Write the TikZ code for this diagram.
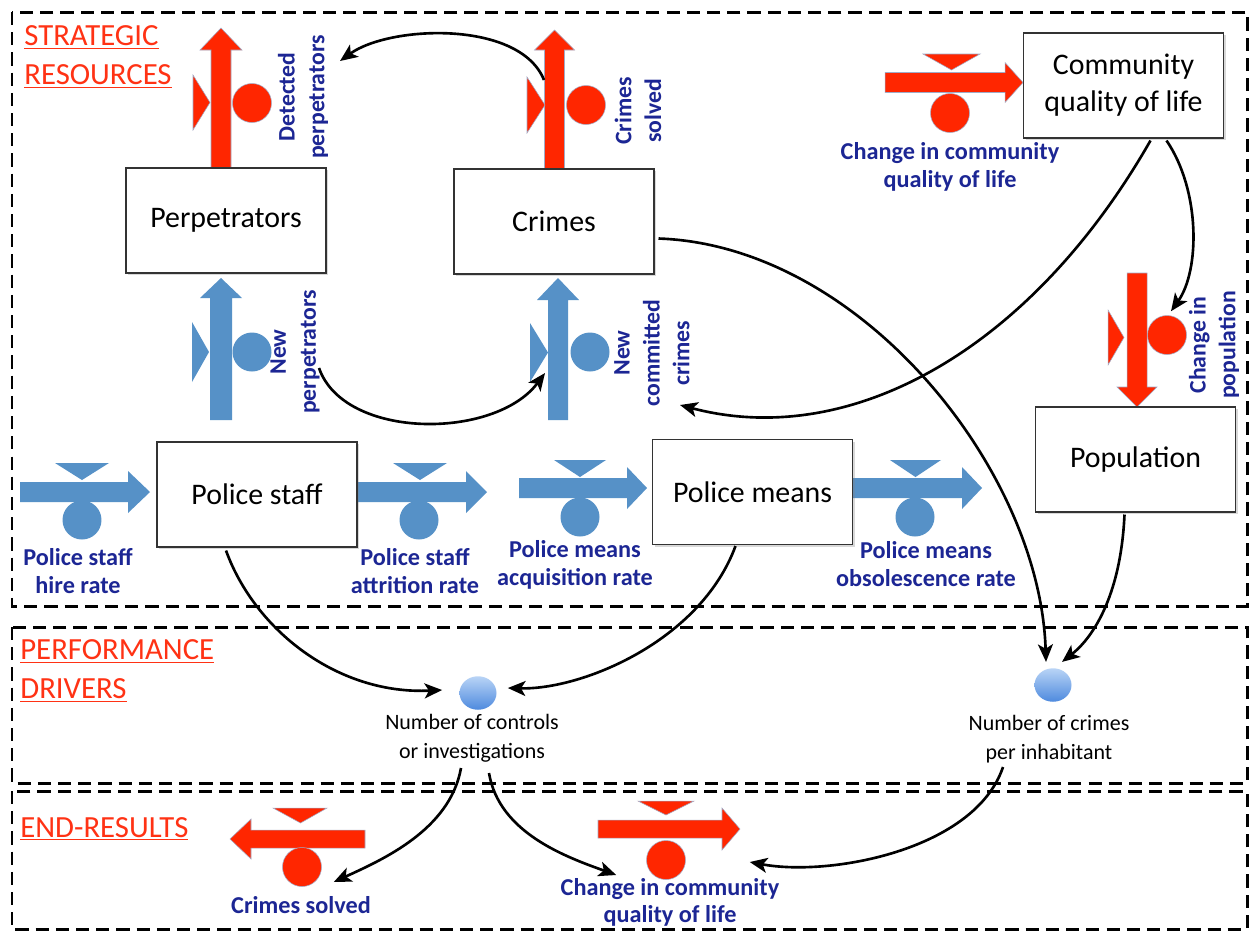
\documentclass[tikz,border=0pt]{standalone}
\usepackage{fontspec}
\setmainfont{Carlito}
\usetikzlibrary{arrows.meta,calc,shadows,shapes.geometric}

\definecolor{flowred}{RGB}{255,38,0}
\definecolor{flowblue}{RGB}{86,145,199}
\definecolor{labblue}{RGB}{28,38,148}
\definecolor{secred}{RGB}{255,50,20}
\definecolor{edgegray}{RGB}{120,135,175}
\definecolor{auxtop}{RGB}{185,212,246}
\definecolor{auxbottom}{RGB}{78,138,222}

% horizontal flow pipe: style, x start, x tip, y centre, shaft half width, head half width, signed head length
\newcommand{\FlowH}[7]{\path[#1] (#2,{#4-#5}) -- ({#3-(#7)},{#4-#5}) -- ({#3-(#7)},{#4-#6}) -- (#3,#4)
  -- ({#3-(#7)},{#4+#6}) -- ({#3-(#7)},{#4+#5}) -- (#2,{#4+#5}) -- cycle;}
% vertical flow pipe: style, x centre, y start, y tip, shaft half width, head half width, signed head length
\newcommand{\FlowV}[7]{\path[#1] ({#2-#5},#3) -- ({#2-#5},{#4+(#7)}) -- ({#2-#6},{#4+(#7)}) -- (#2,#4)
  -- ({#2+#6},{#4+(#7)}) -- ({#2+#5},{#4+(#7)}) -- ({#2+#5},#3) -- cycle;}

\tikzset{
  secbox/.style={draw=black, line width=1.7pt, dash pattern=on 7.5pt off 4pt},
  seclab/.style={text=secred, font=\fontsize{17.5}{22.5}\selectfont, align=left, inner sep=0pt},
  stock/.style={draw=black!80, line width=0.6pt, fill=white, minimum width=4cm, minimum height=2.1cm,
    inner sep=0pt, align=center, font=\fontsize{17}{21}\selectfont,
    drop shadow={shadow xshift=1.2pt, shadow yshift=-1.2pt, opacity=0.3}},
  rflow/.style={fill=flowred, draw=edgegray!70, line width=0.3pt},
  bflow/.style={fill=flowblue},
  rvalve/.style={circle, fill=flowred, draw=edgegray!70, line width=0.3pt, minimum size=0.78cm, inner sep=0pt},
  bvalve/.style={circle, fill=flowblue, minimum size=0.78cm, inner sep=0pt},
  flowlab/.style={text=labblue, font=\fontsize{13.8}{15.5}\selectfont\bfseries, align=center, inner sep=0pt},
  vflowlab/.style={flowlab, rotate=90, font=\fontsize{13.5}{17}\selectfont\bfseries},
  aux/.style={ellipse, minimum width=0.74cm, minimum height=0.67cm, inner sep=0pt,
    top color=auxtop, bottom color=auxbottom},
  auxlab/.style={font=\fontsize{12.5}{16.5}\selectfont, align=center, inner sep=0pt},
  conn/.style={draw=black, line width=1.5pt, -{Stealth[length=10pt,width=8.5pt,inset=2.5pt]}}
}

\begin{document}
\begin{tikzpicture}[x=0.02cm, y=-0.02cm]
\path[use as bounding box, fill=white] (0,0) rectangle (1250,931);

% section frames
\draw[secbox] (12,12) rectangle (1247,606);
\draw[secbox] (12,627) rectangle (1247,783);
\draw[secbox] (12,791) rectangle (1247,929);

\node[seclab, anchor=west] (secsr) at (24,57) {\underline{STRATEGIC}\\\underline{RESOURCES}};
\node[seclab, anchor=west] (secpd) at (20,671) {\underline{PERFORMANCE}\\\underline{DRIVERS}};
\node[seclab, anchor=west] (seces) at (20,829) {\underline{END-RESULTS}};

% red outflows of the stocks
\FlowV{rflow}{221}{168}{28}{10}{21}{22}
\path[rflow] (193,75) -- (210,102.5) -- (193,130) -- cycle;
\node[rvalve] (dp) at (252,103) {};
\node[vflowlab] (detlab) at (303,97) {Detected\\perpetrators};

\FlowV{rflow}{554.5}{169}{30}{10}{20}{20}
\path[rflow] (527,77) -- (545,105) -- (527,133) -- cycle;
\node[rvalve] (cs) at (586,105) {};
\node[vflowlab] (cslab) at (638,111) {Crimes\\solved};

\FlowH{rflow}{885}{1023}{82.5}{10}{20}{18}
\path[rflow] (923,54) -- (980,54) -- (951.5,70) -- cycle;
\node[rvalve] (cq) at (950,113) {};
\node[flowlab] (cqlab) at (950,167) {Change in community\\quality of life};

\FlowV{rflow}{1137}{273}{407}{10}{20}{-20}
\path[rflow] (1108,310) -- (1124,337.5) -- (1108,365) -- cycle;
\node[rvalve] (cp) at (1167,335) {};
\node[vflowlab] (cplab) at (1214,345) {Change in\\population};

% blue inflows
\FlowV{bflow}{221}{420}{278}{11}{21}{20}
\path[bflow] (192,322) -- (209,352) -- (192,382) -- cycle;
\node[bvalve] (np) at (252,352) {};
\node[vflowlab] (nplab) at (295,352) {New\\perpetrators};

\FlowV{bflow}{558}{420}{278}{10}{21}{22}
\path[bflow] (530,323) -- (548,352.5) -- (530,382) -- cycle;
\node[bvalve] (nc) at (590,352) {};
\node[vflowlab] (nclab) at (652,353) {New\\committed\\crimes};

\FlowH{bflow}{20}{150}{492}{10}{21}{22}
\path[bflow] (55,463) -- (109,463) -- (82,480) -- cycle;
\node[bvalve] (hr) at (82,520) {};
\node[flowlab] (hrlab) at (78,571) {Police staff\\hire rate};

\FlowH{bflow}{357}{487}{492}{10}{21}{21}
\path[bflow] (393,463) -- (447,463) -- (420,480) -- cycle;
\node[bvalve] (ar) at (419,520) {};
\node[flowlab] (arlab) at (415,571) {Police staff\\attrition rate};

\FlowH{bflow}{519}{647}{488}{10}{21}{20}
\path[bflow] (554,460) -- (606,460) -- (580,477) -- cycle;
\node[bvalve] (qr) at (580,517) {};
\node[flowlab] (qrlab) at (575,565) {Police means\\acquisition rate};

\FlowH{bflow}{853}{982}{488}{10}{21}{20}
\path[bflow] (890,460) -- (941,460) -- (915.5,477) -- cycle;
\node[bvalve] (orr) at (915,517) {};
\node[flowlab] (orlab) at (926,564) {Police means\\obsolescence rate};

% end results
\FlowH{rflow}{365}{230}{839}{9}{20}{-21}
\path[rflow] (273,808) -- (327,808) -- (300.5,823) -- cycle;
\node[rvalve] (cs2) at (302,867) {};
\node[flowlab] (cs2lab) at (301,905) {Crimes solved};

\FlowH{rflow}{598}{740}{829}{9}{21}{18}
\path[rflow] (638,801) -- (694,801) -- (666,815) -- cycle;
\node[rvalve] (cc2) at (666,860) {};
\node[flowlab] (cc2lab) at (670,902) {Change in community\\quality of life};

% stocks
\node[stock] (perp) at (226,220.5) {Perpetrators};
\node[stock] (crimes) at (554,221.5) {Crimes};
\node[stock] (cql) at (1123.5,85.5) {Community\\quality of life};
\node[stock] (pstaff) at (257,494.5) {Police staff};
\node[stock] (pmeans) at (752.5,492) {Police means};
\node[stock] (pop) at (1135.5,459.5) {Population};

% performance drivers
\node[aux] (a1) at (478,693) {};
\node[auxlab] (a1lab) at (472,738) {Number of controls\\or investigations};
\node[aux] (a2) at (1053,685) {};
\node[auxlab] (a2lab) at (1049,739) {Number of crimes\\per inhabitant};

% causal links
\draw[conn] ($(cs)+(-42,-25)$) .. controls +(-24,-60) and +(50,-36) .. ($(detlab)+(37,-36)$);
\draw[conn] ($(nplab)+(24,16)$) .. controls +(25,72) and +(-50,67) .. ($(nc)+(-45,21)$);
\draw[conn] ($(crimes.east)+(4,17)$) .. controls +(202,7) and +(-6,-192) .. ($(a2.north)+(-7,-6)$);
\draw[conn] ($(cql.south)+(27,2)$) .. controls +(-120,210) and +(170,45) .. ($(nclab)+(28,52)$);
\draw[conn] ($(cql.south)+(43,2)$) .. controls +(34,50) and +(29,-41) .. ($(cp.north)+(4,-4)$);
\draw[conn] ($(pstaff.south)+(-31,3)$) .. controls +(29,80) and +(-104,5) .. ($(a1.west)+(-17,-3)$);
\draw[conn] ($(pmeans.south)+(-17,1)$) .. controls +(-35,95) and +(74,2) .. ($(a1.east)+(11,-5)$);
\draw[conn] ($(pop.south)+(-11,2)$) .. controls +(-4,86) and +(28,-22) .. ($(a2.north)+(9,-6)$);
\draw[conn] ($(a1)+(-17,75)$) .. controls +(-11,62) and +(48,-22) .. ($(cs2.east)+(12,15)$);
\draw[conn] ($(a1)+(11,80)$) .. controls +(10,60) and +(-50,-18) .. ($(cc2.west)+(-30,15)$);
\draw[conn] ($(a2)+(-50,82)$) .. controls +(-28,83) and +(80,15) .. ($(cc2.east)+(64,2)$);
\end{tikzpicture}
\end{document}
